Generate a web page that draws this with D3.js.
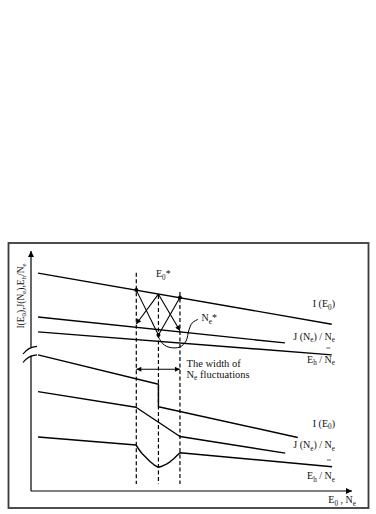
<!DOCTYPE html>
<html>
<head>
<meta charset="utf-8">
<script src="https://cdn.jsdelivr.net/npm/d3@7"></script>
<style>
  html, body { margin: 0; padding: 0; background: #fff; }
  svg { display: block; }
  text { font-family: "Liberation Serif", "Times New Roman", serif; fill: #111; }
</style>
</head>
<body>
<div id="chart"></div>
<script>
// ---- data (abstract units: x = E0 / Ne, y = I, J/Ne, Eh/Ne) ----
const upperI  = [[2.2, 90.8], [93.7, 69.5]];
const upperJ  = [[2.2, 72.5], [79.1, 61.7]];
const upperEh = [[2.2, 66.3], [93.7, 56.7]];

const lowerI  = [[2.2, 56.7], [39.7, 44.5], [39.7, 35.1], [83.1, 22.3]];
const lowerJ  = [[2.2, 41.4], [32.7, 34.9], [46.4, 22.7], [79.2, 15.8]];
const lowerEh = [[2.2, 22.5], [32.71, 19.17], [33.64, 17.29], [34.58, 15.63], [35.83, 13.96],
                 [37.07, 12.29], [38.32, 10.92], [39.66, 9.88], [40.81, 10.33], [42.06, 11.13],
                 [43.30, 12.17], [44.55, 13.54], [45.48, 14.75], [46.42, 15.96], [93.8, 10.1]];

// fluctuation bounds (dashed verticals): x, top, bottom
const fluctX   = [32.8, 39.7, 46.4];
const fluctTop = [90.9, 81.7, 82.9];
const fluctBottom = 2.9;

// crossing arrows between I(E0) and J(Ne)/Ne
const crossTop    = [[32.8, 83.7], [39.7, 82.0], [46.4, 80.6]];
const crossBottom = [[32.8, 69.6], [39.7, 65.0], [46.4, 66.8]];
const crossSegments = [[0, 1, false], [1, 0, true], [1, 2, true], [2, 1, false]]; // topIdx -> bottomIdx, arrow
const dotPoints = [[32.8, 83.7], [46.4, 80.6], [39.7, 65.0]];

// Ne* leader curve
const neLeader = [[39.7, 64.2], [41.1, 61.3], [43.3, 59.8], [46.4, 60.0], [48.3, 62.5],
                  [49.2, 67.1], [50.2, 70.0], [52.0, 71.5]];

// width-of-fluctuations double arrow
const widthArrowY = 50.7;

// labels
const seriesLabelsUpper = [
  {y: 76.5, parts: [["I (E", 0], ["0", 1], [")", 0]]},
  {y: 63.0, parts: [["J (N", 0], ["e", 1], [") / N", 0], ["e", 1]]},
  {y: 53.4, parts: [["E", 0], ["h", 1], [" / N", 0], ["e", 1]]}
];
const seriesLabelsLower = [
  {y: 26.7, parts: [["I (E", 0], ["0", 1], [")", 0]]},
  {y: 17.9, parts: [["J (N", 0], ["e", 1], [") / N", 0], ["e", 1]]},
  {y: 5.0,  parts: [["E", 0], ["h", 1], [" / N", 0], ["e", 1]]}
];
const barMarks = [[92.0, 59.6], [92.2, 12.9]];
const xAxisLabel = [["E", 0], ["0", 1], [" ,  N", 0], ["e", 1]];
const yAxisLabel = [["I(E", 0], ["0", 1], "),J(N", ["e", 1], "),E", ["h", 1], "/N", ["e", 1]];

// ---- drawing ----
const W = 376, H = 514;
const svg = d3.select("#chart").append("svg").attr("width", W).attr("height", H);

const x = d3.scaleLinear().domain([0, 100]).range([31, 352]);
const y = d3.scaleLinear().domain([0, 100]).range([491, 251]);

const defs = svg.append("defs");
defs.append("marker").attr("id", "axArrow").attr("viewBox", "0 0 10 10")
  .attr("refX", 10).attr("refY", 5).attr("markerWidth", 7).attr("markerHeight", 6)
  .attr("markerUnits", "userSpaceOnUse").attr("orient", "auto")
  .append("path").attr("d", "M0,0 L10,5 L0,10 Z").attr("fill", "#000");
defs.append("marker").attr("id", "smArrow").attr("viewBox", "0 0 10 10")
  .attr("refX", 10).attr("refY", 5).attr("markerWidth", 6).attr("markerHeight", 5)
  .attr("markerUnits", "userSpaceOnUse").attr("orient", "auto-start-reverse")
  .append("path").attr("d", "M0,0 L10,5 L0,10 Z").attr("fill", "#000");

// outer frame
svg.append("rect").attr("x", 8.5).attr("y", 243).attr("width", 360).attr("height", 265)
  .attr("fill", "none").attr("stroke", "#3a3a3a").attr("stroke-width", 1.8);

// axes
svg.append("line").attr("x1", x(0)).attr("x2", x(0)).attr("y1", y(59.8)).attr("y2", y(100))
  .attr("stroke", "#000").attr("stroke-width", 1.2).attr("marker-end", "url(#axArrow)");
svg.append("line").attr("x1", x(0)).attr("x2", x(0)).attr("y1", y(0)).attr("y2", y(56.5))
  .attr("stroke", "#000").attr("stroke-width", 1.2);
svg.append("line").attr("x1", x(0)).attr("x2", x(100)).attr("y1", y(0)).attr("y2", y(0))
  .attr("stroke", "#000").attr("stroke-width", 1.2).attr("marker-end", "url(#axArrow)");
// break marks
[0, 8.5].forEach(dy => {
  const x0 = x(0);
  const yb = y(59.8) + dy;
  svg.append("path")
    .attr("d", `M${x0 - 8},${yb + 6.5} Q${x0 - 3},${yb - 0.5} ${x0 + 6},${yb - 1.2}`)
    .attr("fill", "none").attr("stroke", "#000").attr("stroke-width", 1.2);
});

const line = d3.line().x(d => x(d[0])).y(d => y(d[1]));
[upperI, upperJ, upperEh, lowerI, lowerJ, lowerEh].forEach(s => {
  svg.append("path").attr("d", line(s)).attr("fill", "none")
    .attr("stroke", "#000").attr("stroke-width", 1.4).attr("stroke-linejoin", "round");
});

// dashed verticals
fluctX.forEach((fx, i) => {
  svg.append("line").attr("x1", x(fx)).attr("x2", x(fx))
    .attr("y1", y(fluctTop[i])).attr("y2", y(fluctBottom))
    .attr("stroke", "#000").attr("stroke-width", 1.2).attr("stroke-dasharray", "4,2.5");
});

// crossing lines
crossSegments.forEach(([a, b, arrow]) => {
  svg.append("line")
    .attr("x1", x(crossTop[a][0])).attr("y1", y(crossTop[a][1]))
    .attr("x2", x(crossBottom[b][0])).attr("y2", y(crossBottom[b][1]))
    .attr("stroke", "#000").attr("stroke-width", 1.1)
    .attr("marker-end", arrow ? "url(#smArrow)" : null);
});
dotPoints.forEach(p => {
  svg.append("circle").attr("cx", x(p[0])).attr("cy", y(p[1])).attr("r", 2).attr("fill", "#000");
});

// Ne* leader
svg.append("path").attr("d", d3.line().x(d => x(d[0])).y(d => y(d[1])).curve(d3.curveCatmullRom)(neLeader))
  .attr("fill", "none").attr("stroke", "#000").attr("stroke-width", 1);

// width double arrow
svg.append("line").attr("x1", x(fluctX[0])).attr("x2", x(fluctX[2]))
  .attr("y1", y(widthArrowY)).attr("y2", y(widthArrowY))
  .attr("stroke", "#000").attr("stroke-width", 1.1)
  .attr("marker-start", "url(#smArrow)").attr("marker-end", "url(#smArrow)");

// text helper: explicit per-tspan dy for subscripts; anchor handled by measuring
function richText(g, parts, size, px, py, anchor) {
  const t = g.append("text").attr("font-size", size).attr("x", px).attr("y", py);
  let inSub = false;
  parts.forEach(p => {
    const [str, sub] = Array.isArray(p) ? p : [p, 0];
    const ts = t.append("tspan").text(str);
    let dy = 0;
    if (sub && !inSub) dy = size * 0.25;
    if (!sub && inSub) dy = -size * 0.25;
    ts.attr("dy", dy);
    if (sub) ts.attr("font-size", size * 0.72);
    inSub = !!sub;
  });
  if (anchor === "end" || anchor === "middle") {
    const w = t.node().getComputedTextLength();
    t.attr("x", anchor === "end" ? px - w : px - w / 2);
  }
  return t;
}

const fs = 10;
seriesLabelsUpper.concat(seriesLabelsLower).forEach(l => {
  richText(svg, l.parts, fs, 335, y(l.y), "end");
});
barMarks.forEach(b => {
  svg.append("line").attr("x1", x(b[0])).attr("x2", x(b[0]) + 4)
    .attr("y1", y(b[1])).attr("y2", y(b[1])).attr("stroke", "#333").attr("stroke-width", 0.8);
});

richText(svg, xAxisLabel, fs, 356, 503, "end");
richText(svg, [["E", 0], ["0", 1], ["*", 0]], fs, 156, 277);
richText(svg, [["N", 0], ["e", 1], ["*", 0]], fs, 201.5, 321);
richText(svg, [["The width of", 0]], 10.5, 186.5, 366.5);
richText(svg, [["N", 0], ["e", 1], [" fluctuations", 0]], 10.5, 186.5, 377.5);

const yl = svg.append("g").attr("transform", "translate(24,296) rotate(-90)");
richText(yl, yAxisLabel, 9.5, 0, 0, "middle");
</script>
</body>
</html>
